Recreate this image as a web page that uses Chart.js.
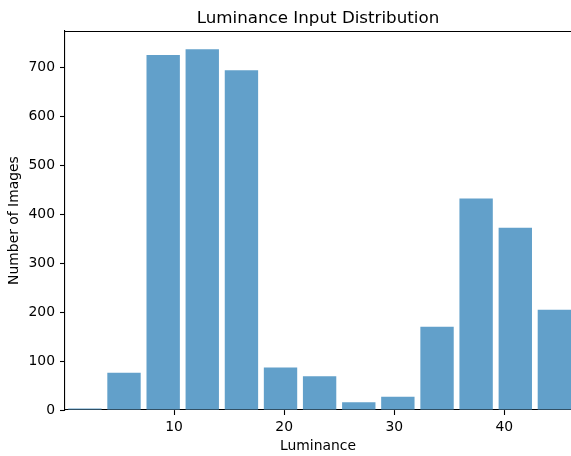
<!DOCTYPE html>
<html><head><meta charset="utf-8">
<script src="https://cdn.jsdelivr.net/npm/chart.js@4/dist/chart.umd.min.js"></script>
<style>html,body{margin:0;padding:0;background:#fff}canvas{display:block}</style>
</head><body>
<canvas id="c" width="571" height="456"></canvas>
<script>
// Histogram bin centres (Luminance) and counts
const binCenters = [1.90, 5.45, 9.01, 12.56, 16.12, 19.67, 23.22, 26.78, 30.33, 33.89, 37.44, 41.00, 44.55];
const imageCounts = [3, 76, 725, 737, 694, 87, 69, 16, 27, 170, 432, 372, 205];
const xTickValues = [10, 20, 30, 40];
const yTickValues = [0, 100, 200, 300, 400, 500, 600, 700];
const xRange = [0.09, 46.06];
const yRange = [0, 774];

const FONT = 'DejaVu Sans';

const topSpine = {
  id: 'topSpine',
  afterDraw(chart) {
    const {ctx, chartArea} = chart;
    ctx.save();
    ctx.strokeStyle = '#000';
    ctx.lineWidth = 1.1;
    ctx.beginPath();
    ctx.moveTo(chartArea.left, Math.round(chartArea.top) + 0.5);
    ctx.lineTo(chartArea.right, Math.round(chartArea.top) + 0.5);
    ctx.stroke();
    ctx.restore();
  }
};

new Chart(document.getElementById('c'), {
  type: 'bar',
  data: {
    datasets: [{
      data: binCenters.map((x, i) => ({x: x, y: imageCounts[i]})),
      backgroundColor: 'rgb(98,160,202)',
      borderWidth: 0,
      barPercentage: 0.854,
      categoryPercentage: 1.0
    }]
  },
  options: {
    responsive: false,
    animation: false,
    layout: {padding: 0},
    plugins: {
      legend: {display: false},
      tooltip: {enabled: false},
      title: {
        display: true,
        text: 'Luminance Input Distribution',
        fullSize: false,
        color: '#000',
        font: {family: FONT, size: 16.7, weight: 'normal'},
        padding: {top: 9, bottom: 2}
      }
    },
    scales: {
      x: {
        type: 'linear',
        min: xRange[0], max: xRange[1],
        offset: false,
        grid: {display: true, offset: false, drawOnChartArea: false, drawTicks: true, tickLength: 5, tickColor: '#000', tickWidth: 1.1},
        border: {display: true, color: '#000', width: 1.1},
        ticks: {color: '#000', font: {family: FONT, size: 13.9}, padding: 4, maxRotation: 0, autoSkip: false},
        afterBuildTicks(s) { s.ticks = xTickValues.map(v => ({value: v})); },
        title: {display: true, text: 'Luminance', color: '#000', font: {family: FONT, size: 13.9}, padding: {top: 2, bottom: 1}},
        afterFit(s) { s.height = 46; }
      },
      y: {
        min: yRange[0], max: yRange[1],
        grid: {display: true, drawOnChartArea: false, drawTicks: true, tickLength: 5, tickColor: '#000', tickWidth: 1.1},
        border: {display: true, color: '#000', width: 1.1},
        ticks: {color: '#000', font: {family: FONT, size: 13.9}, padding: 5, autoSkip: false},
        afterBuildTicks(s) { s.ticks = yTickValues.map(v => ({value: v})); },
        title: {display: true, text: 'Number of Images', color: '#000', font: {family: FONT, size: 13.9}, padding: {top: 6, bottom: 0}},
        afterFit(s) { s.width = 65; }
      }
    }
  },
  plugins: [topSpine]
});
</script>
</body></html>
